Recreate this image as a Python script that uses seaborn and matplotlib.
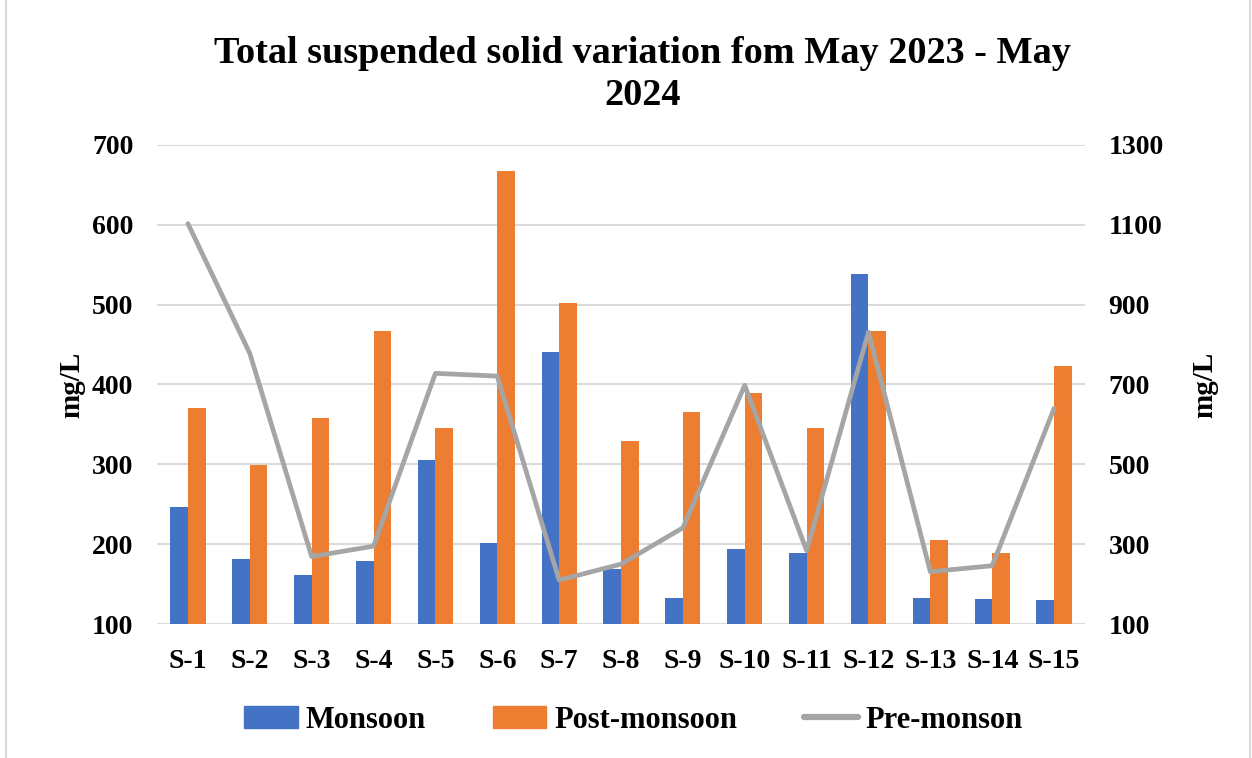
import pandas as pd
import matplotlib.pyplot as plt
import seaborn as sns
from matplotlib.patches import Rectangle, Patch
from matplotlib.lines import Line2D

# -----------------------------
# DATA
# -----------------------------

sites = ["S-1", "S-2", "S-3", "S-4", "S-5", "S-6", "S-7", "S-8",
         "S-9", "S-10", "S-11", "S-12", "S-13", "S-14", "S-15"]

monsoon = [246, 181, 162, 179, 305, 201, 441, 169,
           133, 194, 189, 538, 132, 131, 130]

post_monsoon = [371, 299, 358, 467, 346, 668, 502, 329,
                365, 389, 346, 467, 205, 189, 423]

pre_monsoon = [1103, 778, 269, 295, 728, 721, 210, 250,
               341, 698, 284, 831, 231, 246, 640]

BLUE = "#4472C4"
ORANGE = "#ED7D31"
GREY = "#A5A5A5"
GRID = "#D9D9D9"

df = pd.DataFrame({
    "Site": sites * 2,
    "Value": monsoon + post_monsoon,
    "Season": ["Monsoon"] * len(sites) + ["Post-monsoon"] * len(sites),
})

sns.set_style("white")
plt.rcParams["font.family"] = ["Liberation Serif", "DejaVu Serif"]
plt.rcParams["font.weight"] = "bold"
plt.rcParams["text.color"] = "black"
plt.rcParams["axes.labelcolor"] = "black"
plt.rcParams["xtick.color"] = "black"
plt.rcParams["ytick.color"] = "black"

fig = plt.figure(figsize=(12.52, 7.58), dpi=100)
ax = fig.add_axes([157 / 1252, 1 - 624 / 758, 928 / 1252, 479 / 758])

sns.barplot(
    data=df, x="Site", y="Value", hue="Season",
    palette=[BLUE, ORANGE], width=0.57, saturation=1,
    linewidth=0, ax=ax, legend=False, zorder=3,
)

ax.set_ylim(100, 700)
ax.set_yticks(range(100, 701, 100))
ax.set_xlim(-0.5, len(sites) - 0.5)
ax.grid(axis="y", color=GRID, linewidth=1.4, zorder=0)
ax.set_axisbelow(True)
for s in ax.spines.values():
    s.set_visible(False)
ax.tick_params(axis="y", length=0, labelsize=20, pad=17)
ax.tick_params(axis="x", length=0, labelsize=20, pad=18)
ax.set_xlabel("")
ax.set_ylabel("mg/L", fontsize=21, fontweight="bold", labelpad=5)

# -----------------------------
# PRE-MONSOON LINE (right axis)
# -----------------------------

ax2 = ax.twinx()
sns.lineplot(x=sites, y=pre_monsoon, ax=ax2, color=GREY,
             linewidth=3.4, sort=False, zorder=4)
ax2.set_ylim(100, 1300)
ax2.set_yticks(range(100, 1301, 200))
for s in ax2.spines.values():
    s.set_visible(False)
ax2.tick_params(axis="y", length=0, labelsize=20, pad=17)
ax2.set_ylabel("mg/L", fontsize=21, fontweight="bold", labelpad=20)
ax2.grid(False)

fig.suptitle("Total suspended solid variation fom May 2023 - May\n2024",
             x=0.513, y=1 - 36 / 758, va="top",
             fontsize=27.5, fontweight="bold", linespacing=1.25)

handles = [
    Patch(color=BLUE, label="Monsoon"),
    Patch(color=ORANGE, label="Post-monsoon"),
    Line2D([], [], color=GREY, linewidth=4.5, label="Pre-monson"),
]
fig.legend(handles=handles, loc="center", bbox_to_anchor=(0.506, 1 - 720 / 758),
           ncol=3, frameon=False, fontsize=22, handlelength=1.75,
           handleheight=0.75, columnspacing=2.2, handletextpad=0.25)

fig.add_artist(Rectangle((6 / 1252, -0.01), 1244 / 1252, 1.1,
                         transform=fig.transFigure, fill=False,
                         edgecolor=GRID, linewidth=1.5))

fig.savefig("out.png", dpi=100)
